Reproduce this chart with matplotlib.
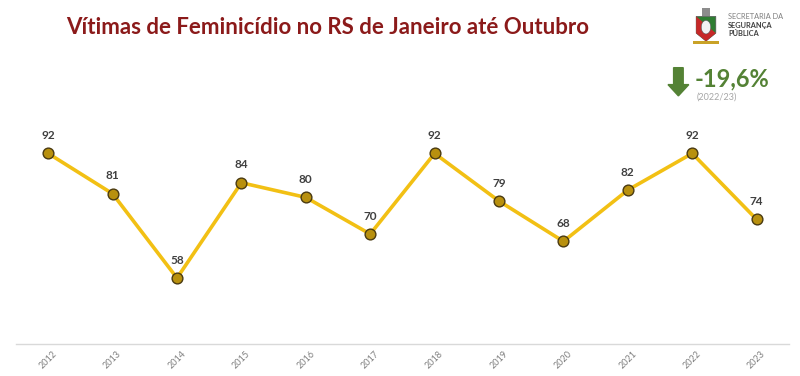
import matplotlib.pyplot as plt
from matplotlib.patches import FancyArrow, Polygon, Rectangle, Circle

anos = ["2012", "2013", "2014", "2015", "2016", "2017",
        "2018", "2019", "2020", "2021", "2022", "2023"]
vitimas = [92, 81, 58, 84, 80, 70, 92, 79, 68, 82, 92, 74]
variacao = "-19,6%"
periodo = "(2022/23)"

plt.rcParams["font.family"] = ["Lato", "DejaVu Sans"]

fig = plt.figure(figsize=(8, 3.76), dpi=100)
ax = fig.add_axes([0.02, 0.085, 0.966, 0.585])

x = range(len(anos))
ax.plot(x, vitimas, color="#f2c014", lw=2.6, zorder=2)
ax.scatter(x, vitimas, s=60, color="#b8900e", edgecolor="#4a3a10", lw=1.0, zorder=3)
for xi, v in zip(x, vitimas):
    ax.annotate(str(v), (xi, v), xytext=(0, 9), textcoords="offset points",
                ha="center", va="bottom", fontsize=8.5, fontweight="bold", color="#404040")

ax.set_xlim(-0.5, len(anos) - 0.5)
ax.set_ylim(40, 100)
ax.set_xticks(list(x))
ax.set_xticklabels(anos, rotation=45, fontsize=6.5, color="#7f7f7f")
ax.tick_params(axis="x", length=0, pad=4)
ax.set_yticks([])
for s in ["top", "left", "right"]:
    ax.spines[s].set_visible(False)
ax.spines["bottom"].set_color("#d9d9d9")
ax.spines["bottom"].set_linewidth(1.0)

fig.text(0.409, 0.928, "Vítimas de Feminicídio no RS de Janeiro até Outubro",
         ha="center", va="center", fontsize=16, fontweight="bold", color="#8b1a1a")

# selo / logo simplificado
logo = fig.add_axes([0.865, 0.88, 0.035, 0.106])
logo.set_xlim(0, 1)
logo.set_ylim(0, 1)
logo.axis("off")
logo.add_patch(Polygon([[0.15, 0.72], [0.85, 0.72], [0.85, 0.3], [0.5, 0.1], [0.15, 0.3]],
                       closed=True, facecolor="#2e7d32", edgecolor="#555555", lw=0.5))
logo.add_patch(Polygon([[0.15, 0.72], [0.85, 0.3], [0.5, 0.1], [0.15, 0.3]],
                       closed=True, facecolor="#c62828", lw=0))
logo.add_patch(Circle((0.5, 0.45), 0.17, facecolor="#f2f2f2", edgecolor="#555555", lw=0.4))
logo.add_patch(Rectangle((0.35, 0.74), 0.3, 0.2, facecolor="#8c8c8c", lw=0))
logo.add_patch(Rectangle((0.05, 0.02), 0.9, 0.08, facecolor="#c9a227", lw=0))
fig.text(0.91, 0.955, "SECRETARIA DA", fontsize=5.3, color="#7f7f7f", va="center")
fig.text(0.91, 0.933, "SEGURANÇA", fontsize=5.3, color="#404040", fontweight="bold", va="center")
fig.text(0.91, 0.911, "PÚBLICA", fontsize=5.3, color="#404040", fontweight="bold", va="center")

# indicador de variação
fig.patches.append(FancyArrow(0.848, 0.82, 0, -0.045, width=0.012, head_width=0.026,
                              head_length=0.03, length_includes_head=False,
                              color="#548235", transform=fig.transFigure, figure=fig))
fig.text(0.868, 0.79, variacao, fontsize=17, fontweight="bold", color="#548235",
         ha="left", va="center")
fig.text(0.871, 0.742, periodo, fontsize=6.5, color="#a6a6a6", ha="left", va="center")

fig.savefig("out.png", dpi=100, facecolor="white")
